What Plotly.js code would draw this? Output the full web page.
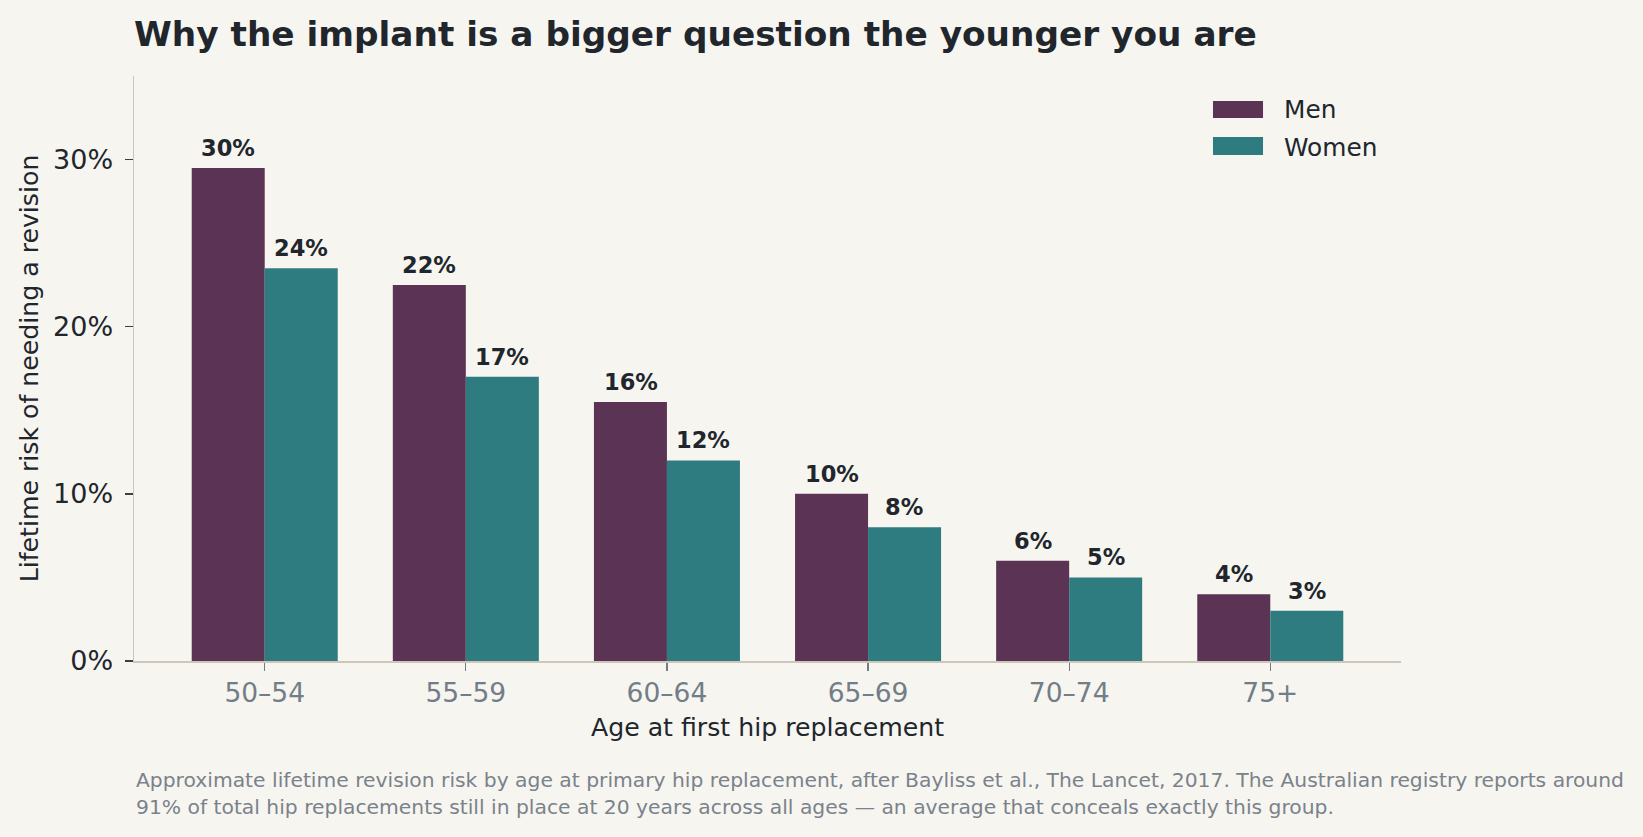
<!DOCTYPE html>
<html><head><meta charset="utf-8">
<script src="https://cdn.plot.ly/plotly-3.0.1.min.js"></script>
<style>html,body{margin:0;padding:0;background:#f6f5f0;}</style>
</head><body><div id="chart" style="width:1643px;height:837px;"></div>
<script>
const ageGroups = ['50–54', '55–59', '60–64', '65–69', '70–74', '75+'];
const menRisk = [29.5, 22.5, 15.5, 10, 6, 4];
const womenRisk = [23.5, 17, 12, 8, 5, 3];
const menLabels = ['30%', '22%', '16%', '10%', '6%', '4%'];
const womenLabels = ['24%', '17%', '12%', '8%', '5%', '3%'];
const yTickValues = [0, 10, 20, 30];
const yTickLabels = ['0%', '10%', '20%', '30%'];
const seriesNames = ['Men', 'Women'];
const titleText = 'Why the implant is a bigger question the younger you are';
const xTitle = 'Age at first hip replacement';
const yTitle = 'Lifetime risk of needing a revision';
const noteLine1 = 'Approximate lifetime revision risk by age at primary hip replacement, after Bayliss et al., The Lancet, 2017. The Australian registry reports around';
const noteLine2 = '91% of total hip replacements still in place at 20 years across all ages — an average that conceals exactly this group.';

const FONT = 'DejaVu Sans, Verdana, sans-serif';
const MEN_C = '#5b3354';
const WOMEN_C = '#2e7c80';
const SERIES_COLORS = [MEN_C, WOMEN_C];
const BG = '#f6f5f0';
const DARK = '#21262d';
const GREY = '#737d87';
const SPINE = '#cec7b7';

const traces = [
  {type: 'bar', name: seriesNames[0], x: ageGroups, y: menRisk, marker: {color: MEN_C}, hoverinfo: 'skip'},
  {type: 'bar', name: seriesNames[1], x: ageGroups, y: womenRisk, marker: {color: WOMEN_C}, hoverinfo: 'skip'}
];

const annotations = [];
const shapes = [];
const halfShift = 36.4;
const labelFont = {family: FONT, size: 22.5, color: DARK, weight: 700};
ageGroups.forEach((g, i) => {
  annotations.push({x: g, y: menRisk[i], xref: 'x', yref: 'y', text: menLabels[i], showarrow: false,
    xshift: -halfShift, yanchor: 'bottom', yshift: 5, font: labelFont});
  annotations.push({x: g, y: womenRisk[i], xref: 'x', yref: 'y', text: womenLabels[i], showarrow: false,
    xshift: halfShift, yanchor: 'bottom', yshift: 5, font: labelFont});
});
const noteFont = {family: FONT, size: 20.3, color: '#7a828b'};
annotations.push({xref: 'paper', yref: 'paper', x: 0, y: -0.2042, xanchor: 'left', yanchor: 'middle', showarrow: false,
  text: noteLine1, align: 'left', font: noteFont});
annotations.push({xref: 'paper', yref: 'paper', x: 0, y: -0.2496, xanchor: 'left', yanchor: 'middle', showarrow: false,
  text: noteLine2, align: 'left', font: noteFont});

// legend (swatches + labels)
const legendRows = [{y0: 0.9283, y1: 0.9573, ty: 0.9428}, {y0: 0.8651, y1: 0.8958, ty: 0.8775}];
seriesNames.forEach((name, i) => {
  const r = legendRows[i];
  shapes.push({type: 'rect', xref: 'paper', yref: 'paper', x0: 0.8516, x1: 0.8911, y0: r.y0, y1: r.y1,
    fillcolor: SERIES_COLORS[i], line: {width: 0}});
  annotations.push({xref: 'paper', yref: 'paper', x: 0.9058, y: r.ty, xanchor: 'left', yanchor: 'middle',
    showarrow: false, text: name, font: {family: FONT, size: 24.8, color: DARK}});
});

const layout = {
  width: 1643, height: 837,
  paper_bgcolor: BG, plot_bgcolor: BG,
  margin: {l: 134, r: 242, t: 76, b: 175.5, pad: 0},
  font: {family: FONT, color: DARK},
  title: {text: titleText, xref: 'paper', x: 0, xanchor: 'left', yref: 'container', y: 0.9594, yanchor: 'middle',
    font: {family: FONT, size: 34.3, color: DARK, weight: 700}},
  barmode: 'group', bargap: 0.274, bargroupgap: 0,
  xaxis: {
    type: 'category', range: [-0.65, 5.65], showline: true, linecolor: SPINE, linewidth: 1.5,
    ticks: 'outside', ticklen: 8, tickwidth: 1.3, tickcolor: GREY, showgrid: false, zeroline: false,
    tickfont: {family: FONT, size: 26.5, color: GREY}, ticklabelstandoff: 0,
    title: {text: xTitle, font: {family: FONT, size: 25.2, color: DARK}, standoff: 11}
  },
  yaxis: {
    range: [0, 35], showline: true, linecolor: SPINE, linewidth: 1.5,
    tickmode: 'array', tickvals: yTickValues, ticktext: yTickLabels,
    ticks: 'outside', ticklen: 8, tickwidth: 1.3, tickcolor: '#3a3f46', showgrid: false, zeroline: false,
    tickfont: {family: FONT, size: 27, color: DARK}, ticklabelstandoff: 6,
    title: {text: yTitle, font: {family: FONT, size: 25.2, color: DARK}, standoff: 7}
  },
  showlegend: false,
  annotations: annotations,
  shapes: shapes
};

Plotly.newPlot('chart', traces, layout, {displayModeBar: false, staticPlot: true});
</script>
</body></html>
